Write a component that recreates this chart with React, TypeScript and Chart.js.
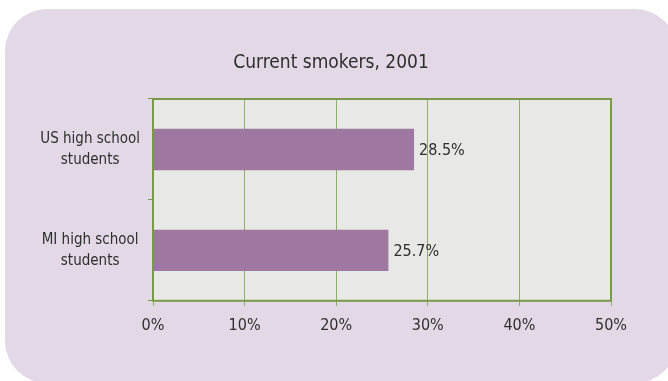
import React, { useEffect, useRef } from "react";
import { Chart, registerables } from "chart.js";

Chart.register(...registerables);

const categories: (string | string[])[] = [
  ["US high school", "students"],
  ["MI high school", "students"],
];
const smokerValues: number[] = [28.5, 25.7];
const valueLabels: string[] = ["28.5%", "25.7%"];
const xTicks: number[] = [0, 10, 20, 30, 40, 50];
const titleText = "Current smokers, 2001";

const FONT = "'DejaVu Sans Condensed', 'Liberation Sans Narrow', sans-serif";
const TEXT = "#2e2e2e";

const bgPlugin = {
  id: "bgPlugin",
  beforeDraw(chart: any) {
    const { ctx, chartArea } = chart;
    ctx.save();
    ctx.fillStyle = "#ffffff";
    ctx.fillRect(0, 0, chart.width, chart.height);
    ctx.fillStyle = "#e3d9e6";
    ctx.beginPath();
    (ctx as any).roundRect(5, 9, 672, 374, 42);
    ctx.fill();
    ctx.fillStyle = "#e8e9e6";
    ctx.fillRect(chartArea.left, chartArea.top, chartArea.right - chartArea.left, chartArea.bottom - chartArea.top);
    ctx.fillStyle = TEXT;
    ctx.font = `19px ${FONT}`;
    ctx.textAlign = "center";
    ctx.textBaseline = "middle";
    ctx.fillText(titleText, 331, 63);
    ctx.restore();
  },
  afterDatasetsDraw(chart: any) {
    const { ctx, chartArea } = chart;
    ctx.save();
    ctx.strokeStyle = "#7a9a48";
    ctx.lineWidth = 2;
    ctx.strokeRect(chartArea.left, chartArea.top, chartArea.right - chartArea.left, chartArea.bottom - chartArea.top);
    const meta = chart.getDatasetMeta(0);
    ctx.fillStyle = TEXT;
    ctx.font = `16px ${FONT}`;
    ctx.textAlign = "left";
    ctx.textBaseline = "middle";
    meta.data.forEach((bar: any, i: number) => {
      ctx.fillText(valueLabels[i], bar.x + 5, bar.y + 1);
    });
    ctx.restore();
  },
};

export default function App() {
  const ref = useRef<HTMLCanvasElement | null>(null);
  useEffect(() => {
    document.body.style.margin = "0";
    const canvas = ref.current!;
    const chart = new Chart(canvas, {
      type: "bar",
      data: {
        labels: categories,
        datasets: [
          {
            data: smokerValues,
            backgroundColor: "#9e78a0",
            barPercentage: 0.41,
            categoryPercentage: 1,
          },
        ],
      },
      options: {
        indexAxis: "y",
        responsive: false,
        animation: false,
        layout: { padding: { left: 20, right: 57, top: 99, bottom: 36 } },
        plugins: {
          legend: { display: false },
          tooltip: { enabled: false },
          title: { display: false },
        },
        scales: {
          x: {
            min: 0,
            max: 50,
            afterBuildTicks: (scale: any) => {
              scale.ticks = xTicks.map((v) => ({ value: v }));
            },
            ticks: {
              callback: (v: any) => v + "%",
              color: TEXT,
              font: { family: FONT, size: 16 },
              padding: 10,
              maxRotation: 0,
            },
            grid: { color: "#8fad66", lineWidth: 1, tickLength: 5 },
            border: { display: false },
          },
          y: {
            afterFit: (scale: any) => {
              scale.width = 133;
            },
            ticks: {
              color: TEXT,
              crossAlign: "center",
              padding: 8,
              font: { family: FONT, size: 15, lineHeight: 1.4 },
            },
            grid: { drawOnChartArea: false, color: "#7a9a48", tickLength: 5, offset: true },
            border: { display: false },
          },
        },
      },
      plugins: [bgPlugin],
    });
    return () => chart.destroy();
  }, []);
  return (
    <div style={{ width: 668, height: 381 }}>
      <canvas ref={ref} width={668} height={381} style={{ display: "block" }} />
    </div>
  );
}
